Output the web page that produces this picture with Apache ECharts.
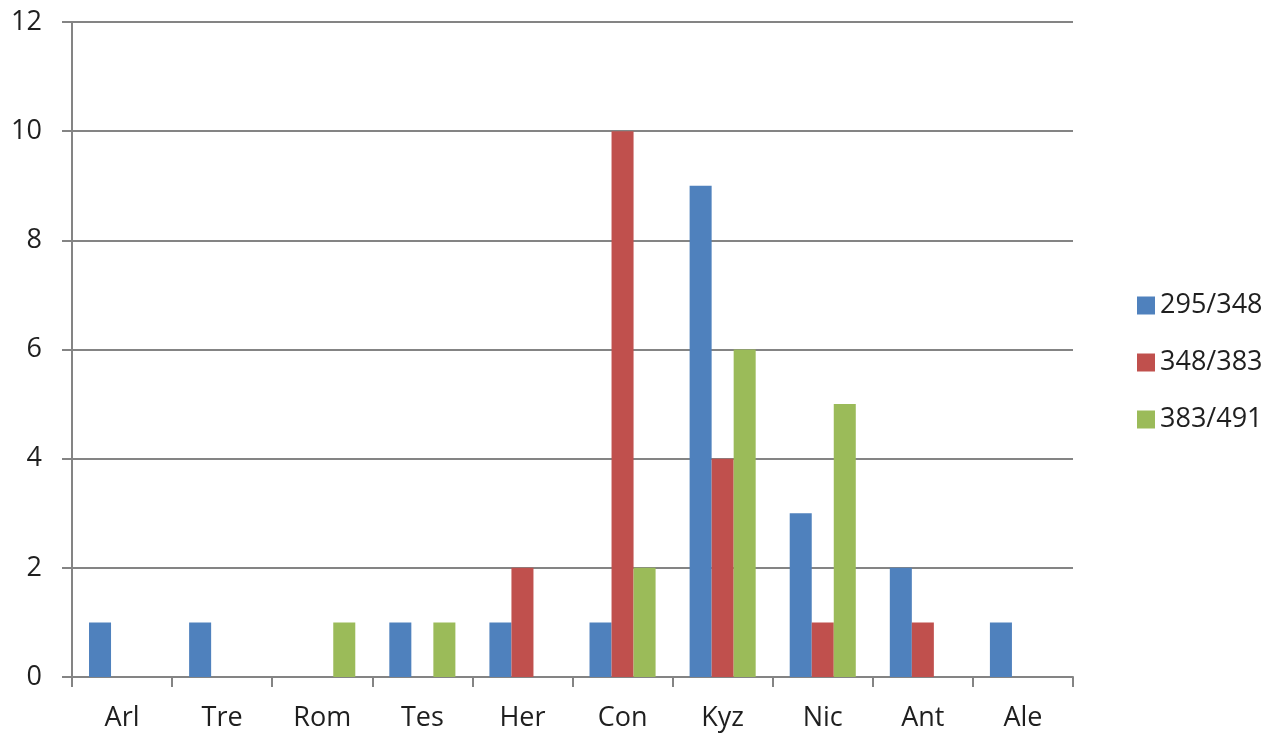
<!DOCTYPE html>
<html>
<head>
<meta charset="utf-8">
<script src="https://cdn.jsdelivr.net/npm/echarts@6/dist/echarts.min.js"></script>
<style>html,body{margin:0;padding:0;background:#fff;}#c{width:1280px;height:737px;}</style>
</head>
<body>
<div id="c"></div>
<script>
const categories = ['Arl', 'Tre', 'Rom', 'Tes', 'Her', 'Con', 'Kyz', 'Nic', 'Ant', 'Ale'];
const seriesNames = ['295/348', '348/383', '383/491'];
const s1 = [1, 1, 0, 1, 1, 1, 9, 3, 2, 1];
const s2 = [0, 0, 0, 0, 2, 10, 4, 1, 1, 0];
const s3 = [0, 0, 1, 1, 0, 2, 6, 5, 0, 0];
const colors = ['#4F81BD', '#C0504D', '#9BBB59'];

const FONT = 'Open Sans';
const TEXT = '#1f1f1f';
const chart = echarts.init(document.getElementById('c'), null, {renderer: 'canvas'});
const axisGrey = '#848484';
chart.setOption({
  animation: false,
  grid: {left: 72, right: 207, top: 22, bottom: 60, containLabel: false},
  legend: {
    orient: 'vertical', left: 1137, top: 292,
    itemWidth: 18, itemHeight: 18, itemGap: 30, padding: 0,
    icon: 'rect',
    textStyle: {fontFamily: FONT, fontSize: 27, color: TEXT, lineHeight: 27},
    data: seriesNames
  },
  xAxis: {
    type: 'category', data: categories,
    axisLine: {lineStyle: {color: axisGrey, width: 2}},
    axisTick: {show: true, length: 10, lineStyle: {color: axisGrey, width: 2}},
    axisLabel: {fontFamily: FONT, fontSize: 27, color: TEXT, margin: 28}
  },
  yAxis: {
    type: 'value', min: 0, max: 12, interval: 2,
    axisLine: {show: true, lineStyle: {color: axisGrey, width: 2}},
    axisTick: {show: true, length: 10, lineStyle: {color: axisGrey, width: 2}},
    splitLine: {lineStyle: {color: axisGrey, width: 2}},
    axisLabel: {fontFamily: FONT, fontSize: 27, color: TEXT, margin: 30}
  },
  series: [s1, s2, s3].map((d, i) => ({
    name: seriesNames[i], type: 'bar', data: d,
    barGap: '0%', barCategoryGap: '34%',
    itemStyle: {color: colors[i]}
  }))
});
</script>
</body>
</html>
